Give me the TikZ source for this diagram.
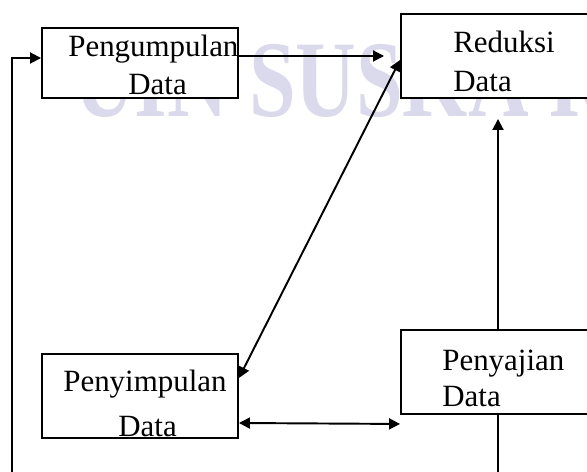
\documentclass[tikz,border=0pt]{standalone}
\usepackage{fontspec}
\setmainfont{Liberation Serif}
\newfontfamily\sempitfont[FakeStretch=0.77]{Liberation Serif}
\usetikzlibrary{arrows.meta}
\definecolor{tandaair}{RGB}{218,218,236}
\tikzset{
  kotak/.style={draw, fill=white, line width=1.1pt, minimum width=3.92cm, minimum height=1.4cm, inner sep=0pt},
  teks/.style={anchor=base west, inner sep=0pt, font=\fontsize{17.6}{21}\selectfont},
  garis/.style={line width=1.1pt},
  panah/.style={line width=1.1pt, -{Triangle[length=0.22cm,width=0.22cm]}},
  dobel/.style={line width=1.1pt, {Triangle[length=0.22cm,width=0.22cm]}-{Triangle[length=0.22cm,width=0.22cm]}}
}

\begin{document}
\begin{tikzpicture}
  \useasboundingbox (0,0) rectangle (11.74,9.44);
  \clip (0,0) rectangle (11.74,9.44);
  \node[anchor=base west, inner sep=0pt, text=tandaair, font=\sempitfont\bfseries\fontsize{62}{62}\selectfont] (uin) at (1.48,7.1) {UIN SUSKA R};
  \node[kotak] (pengumpulan) at (2.80,8.18) {};
  \node[kotak, minimum width=3.88cm, minimum height=1.68cm] (reduksi) at (9.96,8.32) {};
  \node[kotak, minimum height=1.68cm] (penyimpulan) at (2.80,1.52) {};
  \node[kotak, minimum width=3.88cm, minimum height=1.68cm] (penyajian) at (9.96,2.00) {};
  \node[teks] (t1) at (1.36,8.30) {Pengumpulan};
  \node[teks] (t2) at (2.56,7.54) {Data};
  \node[teks] (t3) at (9.06,8.38) {Reduksi};
  \node[teks] (t4) at (9.06,7.60) {Data};
  \node[teks] (t5) at (1.26,1.60) {Penyimpulan};
  \node[teks] (t6) at (2.36,0.70) {Data};
  \node[teks] (t7) at (8.84,2.02) {Penyajian};
  \node[teks] (t8) at (8.84,1.30) {Data};
  \coordinate (kiri) at (0.24,-0.2);
  \coordinate (bawah) at (9.96,-0.2);
  \draw[panah] (kiri) |- ([yshift=1mm]pengumpulan.west);
  \draw[panah, shorten >=0.32cm] (pengumpulan.east |- reduksi.west) -- (reduksi.west);
  \draw[dobel] ([yshift=-0.08cm]reduksi.west) -- ([yshift=0.36cm]penyimpulan.east);
  \draw[panah, shorten >=0.4cm] (penyajian) -- (reduksi);
  \draw[dobel] ([yshift=-0.54cm]penyimpulan.east) -- ([yshift=-0.18cm]penyajian.south west);
  \draw[garis] (penyajian) -- (bawah);
\end{tikzpicture}
\end{document}
